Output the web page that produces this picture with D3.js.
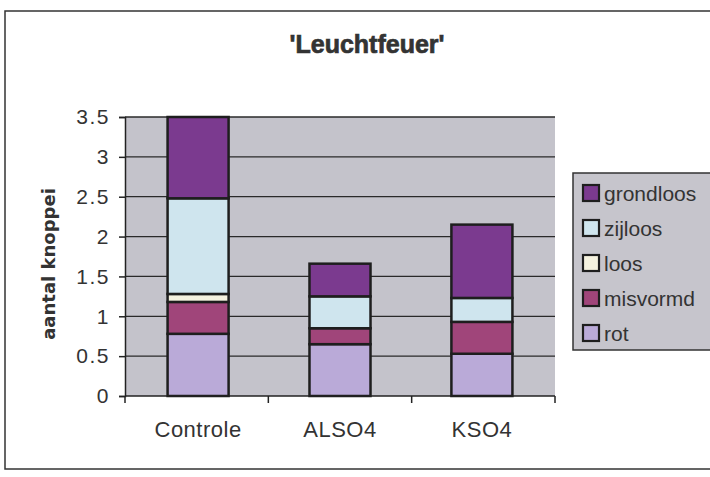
<!DOCTYPE html>
<html>
<head>
<meta charset="utf-8">
<script src="https://cdn.jsdelivr.net/npm/d3@7"></script>
<style>
  body { margin: 0; background: #fff; }
  svg { display: block; font-family: "Liberation Sans", Arial, sans-serif; }
</style>
</head>
<body>
<div id="chart"></div>
<script>
// data
const categories = ['Controle', 'ALSO4', 'KSO4'];
const seriesNames = ['rot', 'misvormd', 'loos', 'zijloos', 'grondloos'];
const rot       = [0.78, 0.65, 0.53];
const misvormd  = [0.40, 0.20, 0.40];
const loos      = [0.10, 0.00, 0.00];
const zijloos   = [1.20, 0.40, 0.30];
const grondloos = [1.02, 0.41, 0.92];
const yTicks = [0, 0.5, 1, 1.5, 2, 2.5, 3, 3.5];
const colors = ['#baaad8', '#a0457a', '#f5f2df', '#cfe5ee', '#7b3a8f'];

const width = 710, height = 477;
const margin = { top: 117, right: 155, bottom: 81, left: 125 };

const svg = d3.select('#chart')
    .append('svg')
    .attr('width', width)
    .attr('height', height);

// outer chart frame
svg.append('rect')
    .attr('x', 5).attr('y', 11)
    .attr('width', 712).attr('height', 458)
    .attr('fill', 'none')
    .attr('stroke', '#333')
    .attr('stroke-width', 1.5);

const table = categories.map((c, i) => ({
    cat: c, rot: rot[i], misvormd: misvormd[i], loos: loos[i],
    zijloos: zijloos[i], grondloos: grondloos[i]
}));
const stacked = d3.stack().keys(seriesNames)(table);

const x = d3.scaleBand()
    .domain(categories)
    .range([margin.left, width - margin.right])
    .paddingInner(0.57)
    .paddingOuter(0.3);

const y = d3.scaleLinear()
    .domain([0, 3.5])
    .range([height - margin.bottom, margin.top]);

const color = d3.scaleOrdinal().domain(seriesNames).range(colors);

// plot area
svg.append('rect')
    .attr('x', margin.left)
    .attr('y', y(3.5))
    .attr('width', width - margin.right - margin.left)
    .attr('height', y(0) - y(3.5))
    .attr('fill', '#c4c3cb');

// gridlines
svg.append('g')
    .selectAll('line')
    .data(yTicks.filter(d => d > 0))
    .join('line')
    .attr('x1', margin.left)
    .attr('x2', width - margin.right)
    .attr('y1', d => y(d))
    .attr('y2', d => y(d))
    .attr('stroke', '#2a2a2a')
    .attr('stroke-width', 1.3);

// bars
svg.append('g')
    .selectAll('g')
    .data(stacked)
    .join('g')
    .attr('fill', d => color(d.key))
    .selectAll('rect')
    .data(d => d.map((v, i) => ({ v, cat: categories[i] })))
    .join('rect')
    .filter(d => d.v[1] - d.v[0] > 0)
    .attr('x', d => x(d.cat))
    .attr('y', d => y(d.v[1]))
    .attr('width', x.bandwidth())
    .attr('height', d => y(d.v[0]) - y(d.v[1]))
    .attr('stroke', '#1e1e1e')
    .attr('stroke-width', 2.5);

// y axis
const yAxis = svg.append('g')
    .attr('transform', `translate(${margin.left},0)`)
    .call(d3.axisLeft(y).tickValues(yTicks).tickSize(6).tickPadding(9)
        .tickFormat(d3.format('')));
yAxis.select('.domain').attr('stroke', '#222').attr('stroke-width', 1.5);
yAxis.selectAll('.tick line').attr('stroke', '#222').attr('stroke-width', 1.5);
yAxis.selectAll('text')
    .attr('font-size', 21)
    .attr('letter-spacing', 1.5)
    .attr('fill', '#333');

// x axis with ticks between categories
const xAxisG = svg.append('g')
    .attr('transform', `translate(0,${y(0)})`);
xAxisG.append('line')
    .attr('x1', margin.left).attr('x2', width - margin.right)
    .attr('stroke', '#222').attr('stroke-width', 1.5);
xAxisG.selectAll('.sep')
    .data(d3.range(0, categories.length + 1))
    .join('line')
    .attr('class', 'sep')
    .attr('x1', i => margin.left + i * (width - margin.right - margin.left) / categories.length)
    .attr('x2', i => margin.left + i * (width - margin.right - margin.left) / categories.length)
    .attr('y1', 0).attr('y2', 7)
    .attr('stroke', '#222').attr('stroke-width', 1.5);
xAxisG.selectAll('.lbl')
    .data(categories)
    .join('text')
    .attr('class', 'lbl')
    .attr('x', d => x(d) + x.bandwidth() / 2)
    .attr('y', 41)
    .attr('text-anchor', 'middle')
    .attr('font-size', 22)
    .attr('letter-spacing', 0.5)
    .attr('fill', '#333')
    .text(d => d);

// title
svg.append('text')
    .attr('x', 367)
    .attr('y', 53)
    .attr('text-anchor', 'middle')
    .attr('font-size', 25)
    .attr('font-weight', 'bold')
    .attr('fill', '#333')
    .attr('stroke', '#333')
    .attr('stroke-width', 0.7)
    .text("'Leuchtfeuer'");

// y axis title
svg.append('text')
    .attr('transform', `translate(55,264) rotate(-90)`)
    .attr('text-anchor', 'middle')
    .attr('font-family', '"DejaVu Sans", Verdana, sans-serif')
    .attr('font-size', 18)
    .attr('font-weight', 'bold')
    .attr('fill', '#333')
    .text('aantal knoppei');

// legend
const legend = svg.append('g')
    .attr('transform', 'translate(573,173)');
legend.append('rect')
    .attr('width', 150)
    .attr('height', 177)
    .attr('fill', '#c6c5cc')
    .attr('stroke', '#333')
    .attr('stroke-width', 1.5);
const legendItems = legend.selectAll('.item')
    .data(seriesNames.slice().reverse())
    .join('g')
    .attr('class', 'item')
    .attr('transform', (d, i) => `translate(10,${20 + i * 35})`);
legendItems.append('rect')
    .attr('x', 0).attr('y', -8)
    .attr('width', 16).attr('height', 16)
    .attr('fill', d => color(d))
    .attr('stroke', '#1e1e1e')
    .attr('stroke-width', 2.2);
legendItems.append('text')
    .attr('x', 21)
    .attr('y', 8)
    .attr('font-size', 21)
    .attr('fill', '#333')
    .text(d => d);
</script>
</body>
</html>
